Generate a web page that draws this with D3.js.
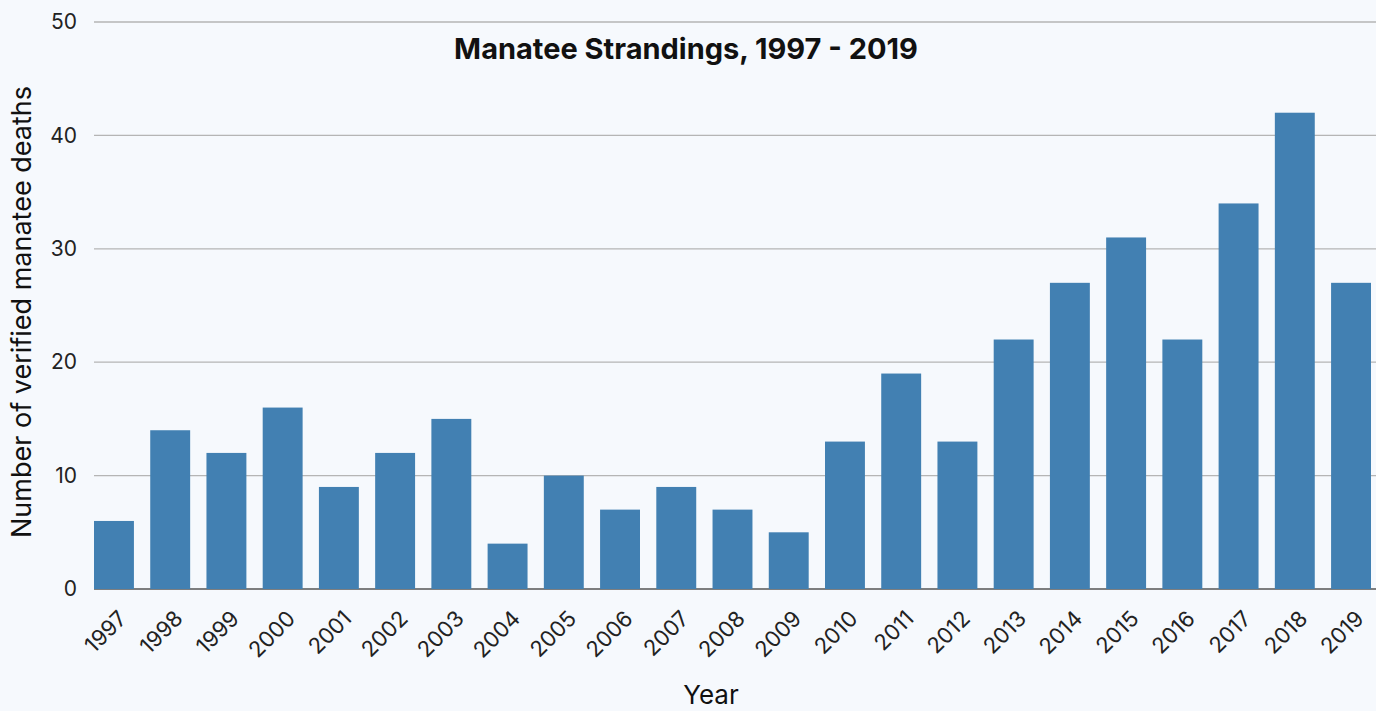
<!DOCTYPE html>
<html>
<head>
<meta charset="utf-8">
<script src="https://cdn.jsdelivr.net/npm/d3@7"></script>
<style>
  body { margin: 0; background: #f6f9fd; }
  svg { display: block; }
  .tick text { fill: #222; }
</style>
</head>
<body>
<svg id="chart"></svg>
<script>
const width = 1376
const height = 711
const font = "Inter, 'Open Sans', sans-serif"

// data
const years = ["1997", "1998", "1999", "2000", "2001", "2002", "2003", "2004", "2005", "2006", "2007", "2008",
    "2009", "2010", "2011", "2012", "2013", "2014", "2015", "2016", "2017", "2018", "2019"]
const deaths = [6, 14, 12, 16, 9, 12, 15, 4, 10, 7, 9, 7, 5, 13, 19, 13, 22, 27, 31, 22, 34, 42, 27]
const yTicks = [0, 10, 20, 30, 40, 50]

var svg = d3.select("#chart")
    .attr("width", width)
    .attr("height", height)
    .style("font-family", font)

var x = d3.scaleBand()
    .domain(years)
    .range([94, 1371])
    .paddingInner(0.29)
    .paddingOuter(0)

var y = d3.scaleLinear()
    .domain([0, 50])
    .range([589, 22])

// gridlines
svg.append("g")
    .selectAll("line")
    .data(yTicks.filter(d => d > 0))
    .enter()
    .append("line")
    .attr("x1", 94)
    .attr("x2", width)
    .attr("y1", d => y(d))
    .attr("y2", d => y(d))
    .attr("stroke", "#b5b5b5")
    .attr("stroke-width", 1.3)

// baseline
svg.append("line")
    .attr("x1", 94)
    .attr("x2", width)
    .attr("y1", y(0))
    .attr("y2", y(0))
    .attr("stroke", "#555")
    .attr("stroke-width", 1.3)

// y axis labels
var yAxis = d3.axisLeft(y).tickValues(yTicks).tickSize(0).tickPadding(0)
svg.append("g")
    .attr("transform", "translate(77,0)")
    .call(yAxis)
    .call(g => g.select(".domain").remove())
    .selectAll("text")
    .style("font-size", "21px")
    .style("font-family", font)

// bars
svg.append("g")
    .selectAll("rect")
    .data(deaths)
    .enter()
    .append("rect")
    .attr("x", (d, i) => x(years[i]))
    .attr("y", d => y(d))
    .attr("width", x.bandwidth())
    .attr("height", d => y(0) - y(d))
    .attr("fill", "#4280b2")

// x axis labels
var xAxis = d3.axisBottom(x).tickSize(0).tickPadding(0)
svg.append("g")
    .attr("transform", "translate(0," + y(0) + ")")
    .call(xAxis)
    .call(g => g.select(".domain").remove())
    .selectAll("text")
    .style("font-size", "22px")
    .style("font-family", font)
    .style("text-anchor", "end")
    .attr("dy", "0")
    .attr("transform", "translate(14,31)rotate(-45)")

// title
svg.append("text")
    .attr("x", 686)
    .attr("y", 59)
    .attr("text-anchor", "middle")
    .style("font-size", "29px")
    .style("font-weight", "bold")
    .style("fill", "#111")
    .text("Manatee Strandings, 1997 - 2019")

// axis titles
svg.append("text")
    .attr("transform", "translate(31,312)rotate(-90)")
    .attr("text-anchor", "middle")
    .style("font-size", "27px")
    .style("fill", "#111")
    .text("Number of verified manatee deaths")

svg.append("text")
    .attr("x", 711)
    .attr("y", 704)
    .attr("text-anchor", "middle")
    .style("font-size", "26px")
    .style("fill", "#111")
    .text("Year")
</script>
</body>
</html>
